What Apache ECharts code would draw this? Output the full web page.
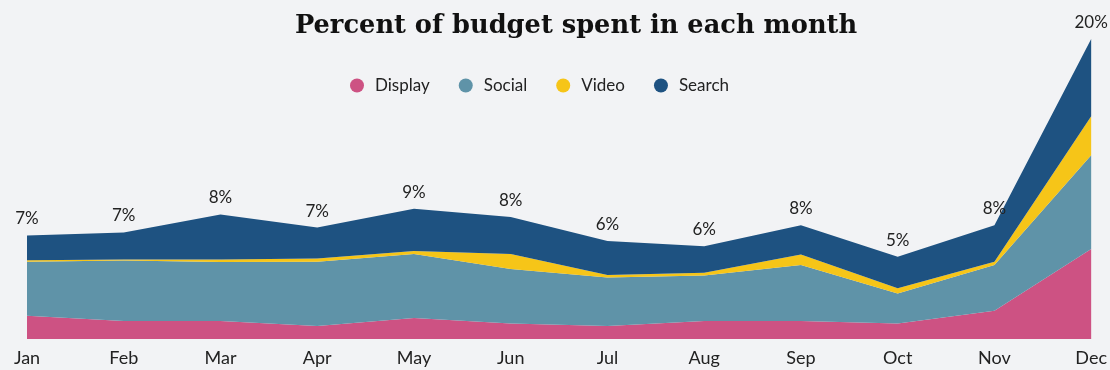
<!DOCTYPE html>
<html>
<head>
<meta charset="utf-8">
<script src="https://cdn.jsdelivr.net/npm/echarts@6/dist/echarts.min.js"></script>
<style>
html,body{margin:0;padding:0;background:#f2f3f5;}
#chart{width:1110px;height:370px;}
</style>
</head>
<body>
<div id="chart"></div>
<script>
const months = ['Jan','Feb','Mar','Apr','May','Jun','Jul','Aug','Sep','Oct','Nov','Dec'];
const display = [1.55, 1.2, 1.2, 0.87, 1.4, 1.04, 0.87, 1.2, 1.2, 1.04, 1.88, 6.0];
const social  = [3.6, 4.04, 3.93, 4.28, 4.26, 3.62, 3.23, 3.04, 3.73, 2.0, 3.05, 6.25];
const video   = [0.1, 0.06, 0.17, 0.22, 0.2, 1.0, 0.16, 0.17, 0.71, 0.34, 0.22, 2.6];
const search  = [1.65, 1.8, 3.0, 2.06, 2.82, 2.48, 2.28, 1.78, 1.95, 2.1, 2.44, 5.15];
const totalLabels = ['7%','7%','8%','7%','9%','8%','6%','6%','8%','5%','8%','20%'];

const font = 'Lato, "Open Sans", sans-serif';
const colors = {Display:'#cd5283', Social:'#5f93a8', Video:'#f6c518', Search:'#1e5281'};

function mk(name, data, withLabel){
  const s = {
    name, type:'line', stack:'total', data,
    symbol:'none', showSymbol:false,
    lineStyle:{width:0},
    areaStyle:{color:colors[name], opacity:1},
    itemStyle:{color:colors[name]},
    emphasis:{disabled:true},
    silent:true
  };
  if(withLabel){
    s.label = {show:true, position:'top', distance:8, color:'#222', fontFamily:font, fontSize:17,
      formatter:(p)=>totalLabels[p.dataIndex]};
    s.showSymbol = true; s.symbolSize = 0.01;
    s.symbol = 'circle';
  }
  return s;
}

const chart = echarts.init(document.getElementById('chart'), null, {renderer:'canvas'});
chart.setOption({
  backgroundColor:'#f2f3f5',
  animation:false,
  title:{text:'Percent of budget spent in each month', left:571, textAlign:'center', top:8,
    textStyle:{fontFamily:'"DejaVu Serif", serif', fontWeight:'bold', fontSize:25.7, color:'#111'}},
  legend:{top:72, left:345, icon:'circle', itemWidth:14, itemHeight:14, itemGap:29,
    textStyle:{fontFamily:font, fontSize:17, color:'#222', padding:[0,0,0,6]},
    data:['Display','Social','Video','Search']},
  grid:{left:27, right:18, top:39, bottom:31},
  xAxis:{type:'category', data:months, boundaryGap:false,
    axisLine:{show:false}, axisTick:{show:false},
    axisLabel:{color:'#222', fontFamily:font, fontSize:18, margin:10}},
  yAxis:{type:'value', min:0, max:20, show:false, splitLine:{show:false}},
  series:[mk('Display',display), mk('Social',social), mk('Video',video), mk('Search',search,true)]
});
</script>
</body>
</html>
